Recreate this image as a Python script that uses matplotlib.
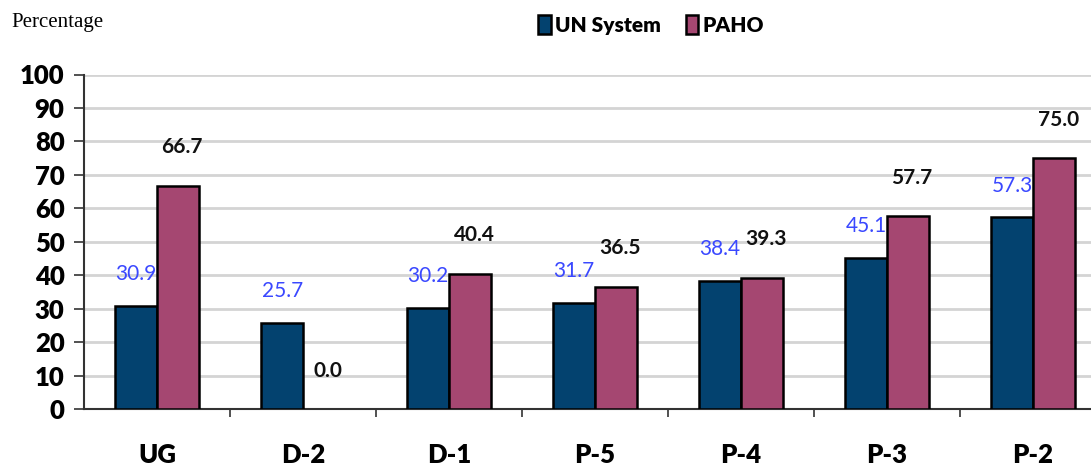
import matplotlib.pyplot as plt
import numpy as np

# données
grades = ['UG', 'D-2', 'D-1', 'P-5', 'P-4', 'P-3', 'P-2']
un_system = [30.9, 25.7, 30.2, 31.7, 38.4, 45.1, 57.3]
paho = [66.7, 0.0, 40.4, 36.5, 39.3, 57.7, 75.0]

c_un, c_paho = '#03426f', '#a54771'
fam = ['Lato', 'DejaVu Sans']

fig = plt.figure(figsize=(10.91, 4.67), dpi=100)
ax = fig.add_axes([84/1091, 1-409/467, 1-84/1091, (409-74.5)/467])

x = np.arange(len(grades))
w = 0.285
ax.bar(x - w/2, un_system, w, color=c_un, edgecolor='black', lw=1.8, label='UN System', zorder=3)
ax.bar(x + w/2, paho, w, color=c_paho, edgecolor='black',
       lw=[1.8 if v > 0 else 0 for v in paho], label='PAHO', zorder=3)

for i in range(len(grades)):
    ax.text(x[i] - w/2, un_system[i] + 9.5, '%.1f' % un_system[i], ha='center', va='center',
            color='#3a48ff', fontsize=15, family=fam)
    ax.text(x[i] + w/2 + 0.03, paho[i] + 11.5, '%.1f' % paho[i], ha='center', va='center',
            color='#111111', fontsize=15, family=fam, fontweight='bold')

ax.set_ylim(0, 100)
ax.set_yticks(range(0, 101, 10))
ax.set_xlim(-0.5, (1091-84)/146 - 0.5)
ax.set_xticks(x[:-1] + 0.5)
ax.set_xticklabels([])
ax.tick_params(axis='x', direction='out', length=6, width=1.2, color='#333333')
ax.tick_params(axis='y', direction='out', length=7, width=1.2, color='#333333', pad=7)
for lab in ax.get_yticklabels():
    lab.set_family(fam)
    lab.set_fontsize(18.5)
    lab.set_fontweight('heavy')
for i, g in enumerate(grades):
    ax.text(x[i], -13.8, g, ha='center', va='center', fontsize=18.5, fontweight='heavy', family=fam)

ax.grid(axis='y', color='#d4d4d4', lw=2, zorder=0)
for s in ['top', 'right']:
    ax.spines[s].set_visible(False)
ax.spines['left'].set_color('#333333')
ax.spines['bottom'].set_color('#333333')
ax.spines['left'].set_linewidth(1.5)
ax.spines['bottom'].set_linewidth(1.5)

fig.text(11/1091, 1-22/467, 'Percentage', fontsize=15, family='Liberation Serif', va='center')

leg = fig.legend(loc='center', bbox_to_anchor=(651/1091, 1-25/467), ncol=2, frameon=False,
                 prop={'family': fam, 'size': 15, 'weight': 'heavy'},
                 handlelength=0.6, handleheight=1.0, handletextpad=0.2, columnspacing=1.2)

fig.savefig('out.png', dpi=100)
